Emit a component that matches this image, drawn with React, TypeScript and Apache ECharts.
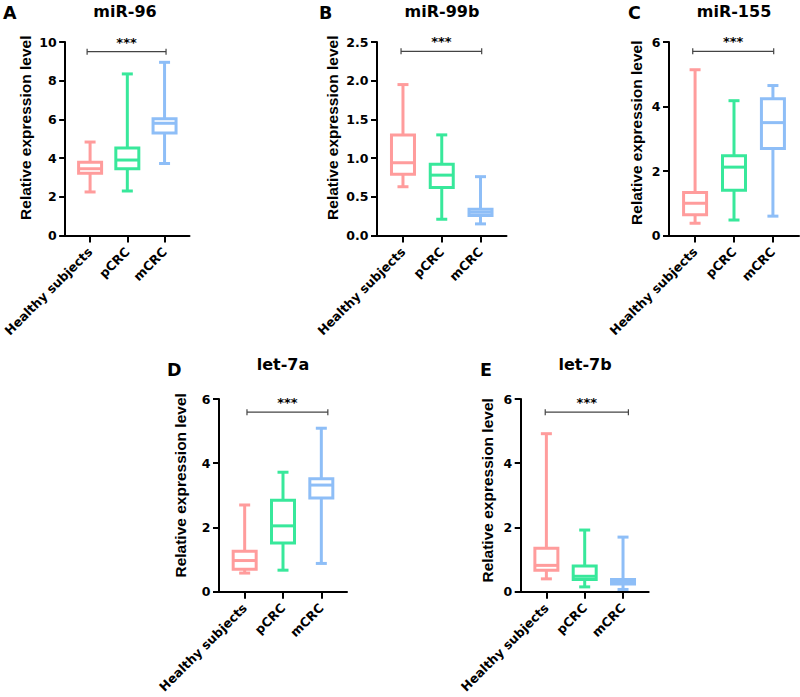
import React, { useEffect, useRef } from 'react';
import * as echarts from 'echarts';

const groups = ['Healthy subjects', 'pCRC', 'mCRC'];
const groupColors = ['#FF9C9C', '#38E89B', '#8EBEF7'];

const panelLetters = ['A', 'B', 'C', 'D', 'E'];
const panelTitles = ['miR-96', 'miR-99b', 'miR-155', 'let-7a', 'let-7b'];

// each row: [min, q1, median, q3, max]
const miR96 = [
  [2.25, 3.22, 3.45, 3.78, 4.83],
  [2.3, 3.45, 3.9, 4.52, 8.35],
  [3.72, 5.3, 5.8, 6.03, 8.95],
];
const miR99b = [
  [0.63, 0.79, 0.94, 1.3, 1.95],
  [0.21, 0.62, 0.78, 0.92, 1.3],
  [0.15, 0.26, 0.3, 0.34, 0.76],
];
const miR155 = [
  [0.38, 0.64, 1.0, 1.33, 5.14],
  [0.48, 1.4, 2.12, 2.47, 4.18],
  [0.6, 2.7, 3.5, 4.24, 4.65],
];
const let7a = [
  [0.58, 0.7, 0.97, 1.26, 2.7],
  [0.67, 1.52, 2.05, 2.85, 3.72],
  [0.88, 2.92, 3.32, 3.52, 5.09],
];
const let7b = [
  [0.4, 0.67, 0.82, 1.35, 4.92],
  [0.15, 0.38, 0.48, 0.8, 1.92],
  [0.07, 0.24, 0.3, 0.38, 1.7],
];
const panelData = [miR96, miR99b, miR155, let7a, let7b];

const yMax = [10, 2.5, 6, 6, 6];
const yInterval = [2, 0.5, 2, 2, 2];
const yDecimals = [0, 1, 0, 0, 0];
const sigLabel = '***';
const sigY = [9.5, 2.38, 5.71, 5.59, 5.59];
const sigFrom = [-0.08, -0.05, -0.06, 0.06, -0.03];
const sigTo = [2.04, 2.03, 2.02, 2.17, 2.14];

// layout (pixels)
const gridBoxes = [
  { left: 60.5, top: 42, width: 129, height: 193.5 },
  { left: 377, top: 42, width: 129.5, height: 193.5 },
  { left: 669, top: 42, width: 130, height: 193.5 },
  { left: 219, top: 399, width: 128, height: 192.7 },
  { left: 520.7, top: 399, width: 128, height: 192.7 },
];
const nameGaps = [32, 37, 25, 31, 25];
const nameShift = [11, 11, 6, 10, 5];
const titlePos = [
  [125, 11], [442, 11], [734, 11], [283, 364.5], [585, 364.5],
];
const letterPos = [
  [3, 12.5], [319, 12.5], [628, 12.5], [167, 369.5], [480, 369.5],
];

const BOLD_FONT = 'DejaVu Sans';

function App() {
  const ref = useRef<HTMLDivElement>(null);

  useEffect(() => {
    if (!ref.current) return;
    const chart = echarts.init(ref.current, null, { renderer: 'svg' });

    const grid: any[] = [];
    const xAxis: any[] = [];
    const yAxis: any[] = [];
    const series: any[] = [];
    const graphic: any[] = [];

    panelData.forEach((rows, i) => {
      const g = gridBoxes[i];
      grid.push({ left: g.left, top: g.top, width: g.width, height: g.height, containLabel: false });
      xAxis.push({
        type: 'value',
        gridIndex: i,
        min: -0.67,
        max: 2.67,
        splitLine: { show: false },
        axisLine: { show: true, onZero: false, lineStyle: { color: '#000', width: 2 } },
        axisTick: { show: true, customValues: [0, 1, 2], length: 7, lineStyle: { color: '#000', width: 2 } },
        axisLabel: {
          show: true,
          customValues: [0, 1, 2],
          rotate: 45,
          margin: 14,
          formatter: (v: number) => groups[Math.round(v)] ?? '',
          color: '#000',
          fontFamily: BOLD_FONT,
          fontWeight: 'bold',
          fontSize: 12.5,
        },
      });
      yAxis.push({
        type: 'value',
        gridIndex: i,
        min: 0,
        max: yMax[i],
        interval: yInterval[i],
        splitLine: { show: false },
        axisLine: { show: true, onZero: false, lineStyle: { color: '#000', width: 2 } },
        axisTick: { show: true, length: 6, lineStyle: { color: '#000', width: 2 } },
        axisLabel: {
          margin: 8.5,
          color: '#000',
          fontFamily: BOLD_FONT,
          fontWeight: 'bold',
          fontSize: 12.5,
          formatter: (v: number) => v.toFixed(yDecimals[i]),
        },
        name: 'Relative expression level',
        nameLocation: 'middle',
        nameGap: nameGaps[i],
        nameTextStyle: {
          color: '#000',
          fontFamily: 'Liberation Sans',
          fontWeight: 'bold',
          fontSize: 15.5,
          padding: [0, 0, 0, nameShift[i] * 2],
        },
      });

      series.push({
        type: 'custom',
        xAxisIndex: i,
        yAxisIndex: i,
        clip: false,
        encode: { x: 0, y: [1, 2, 3, 4, 5] },
        data: rows.map((r, k) => [k, ...r]),
        renderItem: (params: any, api: any) => {
          const x = api.value(0);
          const pMin = api.coord([x, api.value(1)]);
          const pQ1 = api.coord([x, api.value(2)]);
          const pMed = api.coord([x, api.value(3)]);
          const pQ3 = api.coord([x, api.value(4)]);
          const pMax = api.coord([x, api.value(5)]);
          const cx = pMin[0];
          const hw = 11.5;
          const cw = 5.5;
          const color = groupColors[params.dataIndex];
          const st = { stroke: color, lineWidth: 3, fill: null };
          return {
            type: 'group',
            children: [
              { type: 'line', shape: { x1: cx, y1: pMax[1], x2: cx, y2: pQ3[1] }, style: st },
              { type: 'line', shape: { x1: cx, y1: pQ1[1], x2: cx, y2: pMin[1] }, style: st },
              { type: 'line', shape: { x1: cx - cw, y1: pMax[1], x2: cx + cw, y2: pMax[1] }, style: st },
              { type: 'line', shape: { x1: cx - cw, y1: pMin[1], x2: cx + cw, y2: pMin[1] }, style: st },
              {
                type: 'rect',
                shape: { x: cx - hw, y: pQ3[1], width: hw * 2, height: pQ1[1] - pQ3[1] },
                style: { stroke: color, lineWidth: 3, fill: '#fff' },
              },
              { type: 'line', shape: { x1: cx - hw, y1: pMed[1], x2: cx + hw, y2: pMed[1] }, style: st },
            ],
          };
        },
      });

      series.push({
        type: 'custom',
        xAxisIndex: i,
        yAxisIndex: i,
        clip: false,
        encode: { x: [0, 1], y: 2 },
        data: [[sigFrom[i], sigTo[i], sigY[i]]],
        renderItem: (params: any, api: any) => {
          const a = api.coord([api.value(0), api.value(2)]);
          const b = api.coord([api.value(1), api.value(2)]);
          const st = { stroke: '#444', lineWidth: 1.2 };
          return {
            type: 'group',
            children: [
              { type: 'line', shape: { x1: a[0], y1: a[1], x2: b[0], y2: b[1] }, style: st },
              { type: 'line', shape: { x1: a[0], y1: a[1] - 3, x2: a[0], y2: a[1] + 3 }, style: st },
              { type: 'line', shape: { x1: b[0], y1: b[1] - 3, x2: b[0], y2: b[1] + 3 }, style: st },
              {
                type: 'text',
                x: (a[0] + b[0]) / 2,
                y: a[1] - 3,
                style: {
                  text: sigLabel,
                  fill: '#000',
                  font: `bold 13px "${BOLD_FONT}"`,
                  align: 'center',
                  verticalAlign: 'bottom',
                  textAlign: 'center',
                  textVerticalAlign: 'bottom',
                },
              },
            ],
          };
        },
      });

      graphic.push({
        type: 'text',
        x: titlePos[i][0],
        y: titlePos[i][1],
        style: {
          text: panelTitles[i],
          fill: '#000',
          font: `bold 16px "${BOLD_FONT}"`,
          align: 'center',
          verticalAlign: 'middle',
          textAlign: 'center',
          textVerticalAlign: 'middle',
        },
      });
      graphic.push({
        type: 'text',
        x: letterPos[i][0],
        y: letterPos[i][1],
        style: {
          text: panelLetters[i],
          fill: '#000',
          font: `bold 17.5px "${BOLD_FONT}"`,
          align: 'left',
          verticalAlign: 'middle',
          textAlign: 'left',
          textVerticalAlign: 'middle',
        },
      });
    });

    chart.setOption({
      animation: false,
      backgroundColor: '#fff',
      grid,
      xAxis,
      yAxis,
      series,
      graphic,
    });

    return () => chart.dispose();
  }, []);

  return (
    <div
      ref={ref}
      style={{ position: 'fixed', left: 0, top: 0, width: 800, height: 697 }}
    />
  );
}

export default App;
